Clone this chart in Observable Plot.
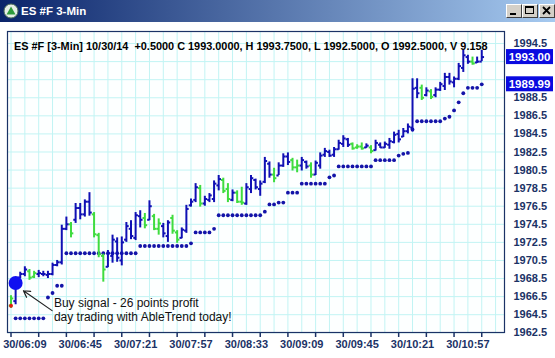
<!DOCTYPE html>
<html><head><meta charset="utf-8">
<script src="https://cdn.jsdelivr.net/npm/d3@7"></script>
<script src="https://cdn.jsdelivr.net/npm/@observablehq/plot@0.6"></script>
<style>
html,body{margin:0;padding:0;background:#fff;}
#wrap{position:relative;width:555px;height:358px;overflow:hidden;font-family:"Liberation Sans",Arial,sans-serif;background:#fff;}
#chart{position:absolute;left:0;top:0;}
#titlebar{position:absolute;left:0;top:0;width:555px;height:22px;background:linear-gradient(to right,#0a246a,#a6caf0);}
#titlebar .ttl{position:absolute;left:21px;top:4px;color:#fff;font-weight:bold;font-size:11.5px;line-height:14px;white-space:pre;}
#titlebar .icon{position:absolute;left:3px;top:3px;}
.btn{position:absolute;top:4px;width:14px;height:12px;background:#d4d0c8;border-top:1px solid #fff;border-left:1px solid #fff;border-right:1px solid #404040;border-bottom:1px solid #404040;}
.btn svg{position:absolute;left:0;top:0;}
#header{position:absolute;left:14px;top:40px;width:488px;overflow:hidden;white-space:pre;font-weight:bold;font-size:10.9px;line-height:12px;color:#000;}
</style>
</head><body>
<div id="wrap">
  <div id="chart"></div>
  <div id="titlebar">
    <svg class="icon" width="16" height="16" viewBox="0 0 16 16"><circle cx="8" cy="8" r="7" fill="#e6eee6" stroke="#50705a"/><path d="M8 3.5 L12.5 11.5 L3.5 11.5 Z" fill="#2f9a3c"/></svg>
    <span class="ttl">ES #F 3-Min</span>
    <div class="btn" style="left:506px"><svg width="14" height="12"><rect x="3" y="8" width="6" height="2" fill="#000"/></svg></div>
    <div class="btn" style="left:522px"><svg width="14" height="12"><rect x="2.5" y="1.5" width="8" height="7" fill="none" stroke="#000"/><rect x="2" y="1" width="9" height="2" fill="#000"/></svg></div>
    <div class="btn" style="left:539px"><svg width="14" height="12"><path d="M3 2 L10 9 M10 2 L3 9" stroke="#000" stroke-width="1.8"/></svg></div>
  </div>
  <div id="header">ES #F [3-Min] 10/30/14  +0.5000 C 1993.0000, H 1993.7500, L 1992.5000, O 1992.5000, V 9.158</div>
</div>
<script>
// ---- data (3-minute bars, bar 0 = 06:00) ----
const opens = [1965.5,1966.0,1968.6,1969.0,1969.3,1968.7,1969.0,1969.0,1968.9,1969.0,
  1970.0,1970.3,1974.0,1974.5,1975.0,1976.3,1975.6,1977.0,1975.6,1973.3,
  1971.0,1969.8,1971.0,1972.6,1970.5,1972.8,1974.0,1973.0,1975.4,1975.2,
  1975.0,1975.4,1974.0,1974.3,1973.2,1975.2,1973.6,1973.0,1973.8,1976.6,
  1977.2,1978.5,1976.8,1977.2,1977.3,1978.8,1979.4,1978.4,1977.2,1978.0,
  1977.0,1976.8,1978.4,1979.4,1978.4,1979.2,1981.2,1980.0,1979.9,1981.0,
  1982.0,1981.6,1980.8,1981.0,1981.4,1981.0,1980.0,1981.0,1982.2,1982.5,
  1982.2,1982.8,1983.4,1983.9,1983.4,1983.0,1983.1,1983.0,1983.0,1982.7,
  1983.3,1983.0,1983.3,1983.6,1984.5,1984.2,1984.8,1985.2,1989.6,1989.6,
  1988.8,1989.2,1988.8,1989.4,1989.8,1990.8,1990.2,1990.6,1991.8,1993.0,
  1992.5,1992.4,1992.5];
const highs = [1966.6,1968.5,1969.2,1969.8,1969.5,1969.3,1969.4,1969.3,1969.3,1970.2,
  1970.5,1974.4,1975.3,1974.7,1976.8,1976.8,1977.2,1978.0,1975.8,1973.5,
  1971.2,1971.6,1973.3,1973.0,1973.1,1974.7,1974.9,1975.8,1976.0,1975.7,
  1977.1,1975.6,1975.1,1974.6,1974.9,1975.5,1973.8,1974.1,1976.6,1977.3,
  1979.0,1978.8,1977.6,1977.9,1979.3,1979.9,1979.6,1979.0,1978.3,1978.2,
  1978.6,1979.0,1979.9,1979.5,1979.3,1981.9,1981.4,1980.7,1981.3,1982.3,
  1982.4,1981.8,1981.6,1981.9,1981.5,1981.3,1981.5,1982.4,1982.9,1982.7,
  1983.0,1983.8,1984.3,1984.0,1983.5,1983.3,1983.5,1983.4,1983.2,1983.8,
  1983.5,1983.6,1984.0,1984.7,1984.9,1985.1,1985.6,1990.6,1990.6,1989.9,
  1989.6,1989.4,1989.6,1990.2,1991.2,1991.2,1990.8,1992.3,1993.8,1993.2,
  1993.0,1993.0,1993.75];
const lows = [1965.2,1965.6,1968.5,1968.7,1968.3,1968.5,1968.6,1968.7,1968.5,1968.8,
  1969.8,1970.0,1973.8,1973.0,1974.6,1975.0,1975.3,1975.4,1973.0,1970.8,
  1968.1,1969.7,1970.2,1970.3,1969.9,1972.5,1972.8,1972.7,1974.1,1974.0,
  1974.9,1973.8,1973.3,1973.0,1972.5,1973.4,1972.4,1972.9,1973.5,1976.4,
  1976.9,1976.4,1976.5,1976.9,1976.9,1978.2,1977.9,1976.9,1977.0,1976.8,
  1976.6,1976.6,1977.9,1978.3,1977.6,1979.0,1979.6,1979.1,1979.9,1980.8,
  1981.0,1980.4,1980.2,1980.4,1980.6,1979.6,1979.9,1980.6,1981.9,1981.9,
  1981.9,1982.7,1983.0,1983.0,1982.7,1982.8,1982.7,1982.9,1982.3,1982.6,
  1982.9,1982.9,1982.8,1983.4,1983.5,1984.1,1984.5,1984.7,1988.4,1988.2,
  1988.6,1988.3,1988.5,1989.2,1989.3,1989.9,1989.6,1990.4,1991.3,1992.2,
  1992.1,1992.3,1992.5];
const closes = [1966.3,1968.0,1969.0,1969.5,1968.6,1969.1,1969.1,1969.0,1969.0,1970.0,
  1970.3,1974.0,1974.5,1973.5,1976.3,1975.6,1977.0,1975.8,1973.4,1971.2,
  1969.5,1971.3,1972.8,1970.8,1972.5,1974.3,1973.2,1975.5,1975.0,1974.4,
  1976.5,1974.0,1974.6,1973.5,1974.7,1973.8,1972.8,1973.9,1976.2,1977.0,
  1978.6,1976.8,1977.3,1977.7,1979.0,1979.5,1978.2,1977.3,1978.0,1977.0,
  1976.9,1978.6,1979.6,1978.6,1979.0,1981.5,1980.0,1979.6,1981.0,1982.0,
  1981.4,1980.8,1981.0,1981.6,1980.9,1980.0,1981.3,1982.1,1982.6,1982.1,
  1982.8,1983.5,1984.0,1983.3,1982.9,1983.1,1982.9,1983.2,1982.6,1983.5,
  1983.0,1983.4,1983.7,1984.4,1983.9,1984.8,1985.3,1989.5,1989.0,1988.5,
  1989.3,1988.6,1989.4,1990.0,1990.8,1990.3,1990.6,1992.0,1993.2,1992.5,
  1992.3,1992.5,1993.0];
// trend state per bar: B = blue, G = green
const trendCodes = ("GBBBGGBBBB"+"BBBGBBBBGG"+"GBBBBBBBBG"+"BGGBBGGBBB"+"BGBBBBGGBG"+
  "GBBBBBBGBB"+"BGGBBGBBBB"+"BBBBGGGBGB"+"BBBBBBBBBG"+"BGBBBBBBBB"+"GBB").split("");
// trailing stop dots
const stops = [null,1964.1,1964.1,1964.1,1964.1,1964.1,1964.1,1964.1,1966.4,1966.9,
  1967.7,1967.7,1971.3,1971.3,1971.3,1971.3,1971.3,1971.3,1971.3,1971.3,
  1971.3,1971.3,1971.3,1971.3,1971.3,1971.3,1971.3,1971.3,1972.1,1972.1,
  1972.1,1972.1,1972.1,1972.1,1972.1,1972.1,1972.1,1972.1,1972.1,1972.4,
  1973.6,1973.6,1973.6,1973.6,1974.0,1975.5,1975.5,1975.5,1975.5,1975.5,
  1975.5,1975.5,1975.5,1975.5,1975.5,1975.9,1976.7,1976.7,1976.9,1976.9,
  1978.0,1978.0,1978.0,1979.0,1979.0,1979.0,1979.0,1979.0,1979.0,1979.7,
  1979.9,1980.9,1980.9,1980.9,1980.9,1980.9,1980.9,1980.9,1980.9,1981.6,
  1981.6,1981.6,1981.6,1981.6,1982.1,1982.3,1982.4,1985.0,1985.9,1985.9,
  1985.9,1985.9,1985.9,1985.9,1986.2,1986.4,1987.1,1988.0,1989.0,1989.6,
  1989.6,1989.6,1989.99];
// axis ticks and labels
const xLabelBars = [3,15,27,39,51,63,75,87,99];
const xLabels = ["30/06:09","30/06:45","30/07:21","30/07:57","30/08:33","30/09:09","30/09:45","30/10:21","30/10:57"];
const xTickBars = [0,6,12,18,24,30,36,42,48,54,60,66,72,78,84,90,96,102];
const xGridBars = [0,3,6,9,12,15,18,21,24,27,30,33,36,39,42,45,48,51,54,57,60,63,66,69,72,75,78,81,84,87,90,93,96,99,102,105];
const yGridValues = [1962.5,1964.5,1966.5,1968.5,1970.5,1972.5,1974.5,1976.5,1978.5,1980.5,1982.5,1984.5,1986.5,1988.5,1990.5,1992.5,1994.5];
const yLabelValues = [1962.5,1964.5,1966.5,1968.5,1970.5,1972.5,1974.5,1976.5,1978.5,1980.5,1982.5,1984.5,1986.5,1988.5,1994.5];
// price flags on the right axis
const priceFlags = [{value: 1993.00, label: "1993.00"}, {value: 1989.99, label: "1989.99"}];
// signals and annotation
const buySignal = [{i: 1, v: 1968.0}];
const redMark = [{i: 0, v: 1965.5}];
const arrowData = [{i1: 8.9, v1: 1964.95, i2: 2.7, v2: 1967.15}];
const noteLines = [{i: 9.3, v: 1965.75, text: "Buy signal - 26 points profit"},
                   {i: 9.3, v: 1964.2, text: "day trading with AbleTrend today!"}];

const BLUE = "#1010b4", GREEN = "#3fdc3f", NAVY = "#1b3266";
const bars = opens.map((o, i) => ({i, open: o, high: highs[i], low: lows[i], close: closes[i],
  color: trendCodes[i] === "G" ? GREEN : BLUE}));
const stopPts = stops.map((v, i) => ({i, v})).filter(d => d.v != null);

const chart = Plot.plot({
  width: 555, height: 358,
  marginLeft: 7, marginRight: 51, marginTop: 31, marginBottom: 26,
  style: {background: "transparent", fontFamily: "'Liberation Sans', Arial, sans-serif", overflow: "visible"},
  x: {domain: [-0.76, 106.93], axis: null},
  y: {domain: [1962.53, 1995.83], axis: null},
  color: {type: "identity"},
  marks: [
    Plot.frame({fill: "#fdffff"}),
    Plot.gridX({ticks: xGridBars, stroke: "#c2f4f4", strokeOpacity: 1}),
    Plot.gridY({ticks: yGridValues, stroke: "#c2f4f4", strokeOpacity: 1}),
    Plot.dot(stopPts, {x: "i", y: "v", r: 1.9, fill: "#1414a8", stroke: null}),
    Plot.ruleX(bars, {x: "i", y1: "low", y2: "high", stroke: "color", strokeWidth: 2}),
    Plot.link(bars, {x1: d => d.i - 0.5, x2: "i", y1: "open", y2: "open", stroke: "color", strokeWidth: 2}),
    Plot.link(bars, {x1: "i", x2: d => d.i + 0.5, y1: "close", y2: "close", stroke: "color", strokeWidth: 2}),
    Plot.dot(redMark, {x: "i", y: "v", r: 2, fill: "#e02010"}),
    Plot.dot(buySignal, {x: "i", y: "v", r: 7, fill: "#1010f0"}),
    Plot.arrow(arrowData, {x1: "i1", y1: "v1", x2: "i2", y2: "v2", stroke: "#202020", strokeWidth: 1.2, headLength: 9}),
    Plot.text(noteLines, {x: "i", y: "v", text: "text", textAnchor: "start", fontSize: 12, fill: "#111"}),
    Plot.frame({stroke: NAVY, strokeWidth: 1.2}),
    Plot.axisX({ticks: xTickBars, tickSize: 5, tickFormat: () => "", stroke: NAVY, strokeWidth: 1.5}),
    Plot.axisX({ticks: xLabelBars, tickSize: 0, tickPadding: 8, tickFormat: i => xLabels[xLabelBars.indexOf(i)], fontSize: 11, fontWeight: "bold", fill: NAVY}),
    Plot.axisY({anchor: "right", ticks: yLabelValues, tickSize: 0, tickPadding: 9, tickFormat: d => d.toFixed(1), fontSize: 11, fontWeight: "bold", fill: NAVY, textAnchor: "start"})
  ]
});
document.getElementById("chart").appendChild(chart);

// price flags drawn with the plot's own y scale
const yScale = chart.scale("y");
const svg = d3.select(chart);
const flagG = svg.append("g");
priceFlags.forEach(f => {
  const yc = yScale.apply(f.value);
  flagG.append("rect").attr("x", 506).attr("y", yc - 7.5).attr("width", 47).attr("height", 15).attr("fill", "#0a0ae0");
  flagG.append("text").attr("x", 529.5).attr("y", yc).attr("dy", "0.36em").attr("text-anchor", "middle")
    .attr("fill", "#fff").attr("font-size", 11.5).attr("font-weight", "bold").text(f.label);
});
</script>
</body></html>
